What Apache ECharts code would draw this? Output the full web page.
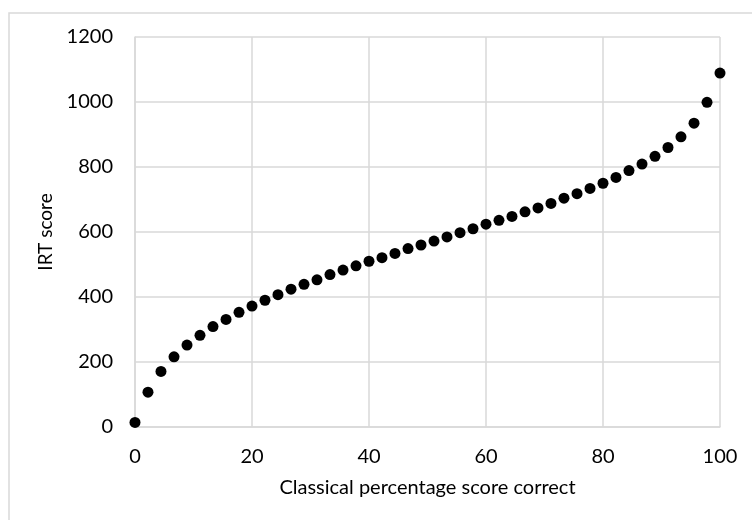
<!DOCTYPE html>
<html>
<head>
<meta charset="utf-8">
<script src="https://cdn.jsdelivr.net/npm/echarts@6/dist/echarts.min.js"></script>
<style>
html,body{margin:0;padding:0;background:#fff;}
#chart{width:752px;height:520px;}
</style>
</head>
<body>
<div id="chart"></div>
<script>
// Classical percentage score (x) — 46 equally spaced scores, 0..100
var classicalScores = [0, 2.22, 4.44, 6.67, 8.89, 11.11, 13.33, 15.56, 17.78, 20,
  22.22, 24.44, 26.67, 28.89, 31.11, 33.33, 35.56, 37.78, 40, 42.22,
  44.44, 46.67, 48.89, 51.11, 53.33, 55.56, 57.78, 60, 62.22, 64.44,
  66.67, 68.89, 71.11, 73.33, 75.56, 77.78, 80, 82.22, 84.44, 86.67,
  88.89, 91.11, 93.33, 95.56, 97.78, 100];
// IRT score (y)
var irtScores = [14, 107, 171, 216, 252, 282, 309, 331, 353, 372,
  390, 407, 424, 439, 453, 469, 483, 496, 510, 521,
  534, 549, 560, 572, 585, 598, 610, 624, 636, 648,
  662, 674, 688, 704, 718, 734, 750, 768, 789, 809,
  833, 860, 893, 935, 999, 1089];
var xTicks = [0, 20, 40, 60, 80, 100];
var yTicks = [0, 200, 400, 600, 800, 1000, 1200];

var points = classicalScores.map(function (x, i) { return [x, irtScores[i]]; });
var fontFam = 'Lato, "Open Sans", "Liberation Sans", sans-serif';
var gridColor = '#d9d9d9';

var chart = echarts.init(document.getElementById('chart'), null, {renderer: 'canvas'});
chart.setOption({
  animation: false,
  backgroundColor: '#ffffff',
  graphic: [{
    type: 'rect',
    shape: {x: 9, y: 13, width: 760, height: 520},
    style: {fill: 'none', stroke: '#d9d9d9', lineWidth: 1.5},
    silent: true, z: -1
  }],
  grid: {left: 135, right: 32, top: 37, bottom: 93},
  xAxis: {
    type: 'value',
    min: xTicks[0], max: xTicks[xTicks.length - 1], interval: 20,
    name: 'Classical percentage score correct',
    nameLocation: 'middle', nameGap: 51,
    nameTextStyle: {fontFamily: fontFam, fontSize: 20, color: '#000'},
    axisLine: {show: true, lineStyle: {color: gridColor, width: 1.5}},
    axisTick: {show: false},
    axisLabel: {margin: 20, fontFamily: fontFam, fontSize: 20, color: '#000',
      formatter: function (v) { return String(v); }},
    splitLine: {show: true, lineStyle: {color: gridColor, width: 1.5}}
  },
  yAxis: {
    type: 'value',
    min: yTicks[0], max: yTicks[yTicks.length - 1], interval: 200,
    name: 'IRT score',
    nameLocation: 'middle', nameGap: 78, nameRotate: 90,
    nameTextStyle: {fontFamily: fontFam, fontSize: 19, color: '#000'},
    axisLine: {show: true, lineStyle: {color: gridColor, width: 1.5}},
    axisTick: {show: false},
    axisLabel: {margin: 22, fontFamily: fontFam, fontSize: 20, color: '#000',
      formatter: function (v) { return String(v); }},
    splitLine: {show: true, lineStyle: {color: gridColor, width: 1.5}}
  },
  series: [{
    type: 'scatter',
    data: points,
    symbol: 'circle',
    symbolSize: 11,
    itemStyle: {color: '#000000', opacity: 1}
  }]
});
</script>
</body>
</html>
